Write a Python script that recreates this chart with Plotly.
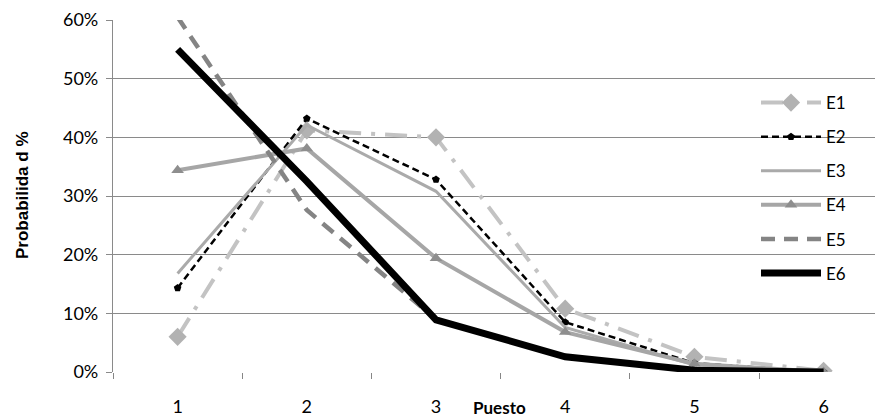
import plotly.graph_objects as go

# Puesto (position) categories and probabilities (%) per series
puesto = [1, 2, 3, 4, 5, 6]
e1 = [6.0, 41.2, 40.0, 10.8, 2.6, 0.2]
e2 = [14.3, 43.2, 32.8, 8.5, 1.5, 0.0]
e3 = [16.8, 42.1, 30.8, 7.6, 1.2, 0.0]
e4 = [34.4, 38.1, 19.4, 6.8, 1.4, 0.0]
e5 = [60.5, 27.6, 9.0, 2.6, 0.4, 0.0]
e6 = [55.0, 32.5, 8.9, 2.6, 0.3, 0.0]
y_ticks = [0, 10, 20, 30, 40, 50, 60]
y_labels = [f"{v}%" for v in y_ticks]

FONT = "Lato"

series = [
    ("E1", e1, dict(color="#c3c3c3", width=4, dash="22px,10px,4px,10px"),
     dict(symbol="diamond", size=14, color="#b2b2b2")),
    ("E2", e2, dict(color="#000000", width=2.5, dash="7px,4px"),
     dict(symbol="pentagon", size=8, color="#000000")),
    ("E3", e3, dict(color="#aaaaaa", width=3), None),
    ("E4", e4, dict(color="#a6a6a6", width=4),
     dict(symbol="triangle-up", size=11, color="#8e8e8e")),
    ("E5", e5, dict(color="#848484", width=4.5, dash="14px,9px"), None),
    ("E6", e6, dict(color="#000000", width=7), None),
]

fig = go.Figure()
for name, vals, line, marker in series:
    kw = dict(mode="lines+markers", marker=marker) if marker else dict(mode="lines")
    fig.add_trace(go.Scatter(
        x=puesto, y=vals, name=name, line=line, legendgroup=name, **kw))

W, H = 875, 419
L, R, T, B = 113, 0, 20, 47
pw = W - L - R
ph = H - T - B
cat_w = 129.2

fig.update_layout(
    width=W, height=H,
    margin=dict(l=L, r=R, t=T, b=B),
    paper_bgcolor="white", plot_bgcolor="white",
    font=dict(family=FONT, size=18, color="#000000"),
    showlegend=True,
    legend=dict(
        x=(756 - L) / pw, y=(372 - 85) / ph, xanchor="left", yanchor="top",
        bgcolor="rgba(0,0,0,0)", font=dict(family=FONT, size=17),
        tracegroupgap=9, itemwidth=60,
    ),
    xaxis=dict(
        range=[0.5, 0.5 + pw / cat_w],
        tickvals=puesto, ticktext=[str(p) for p in puesto],
        ticks="", showgrid=False, zeroline=False,
        showline=False, ticklabelstandoff=22,
        minor=dict(tickvals=[0.5, 1.5, 2.5, 3.5, 4.5, 5.5],
                   ticks="outside", ticklen=6, tickcolor="#868686",
                   showgrid=False),
    ),
    yaxis=dict(
        range=[0, 60], tickvals=y_ticks, ticktext=y_labels,
        showgrid=True, gridcolor="#8a8a8a", gridwidth=1.3,
        zeroline=False, showline=True, linecolor="#8a8a8a", linewidth=1.3,
        ticks="outside", ticklen=6, tickcolor="#8a8a8a",
        ticklabelstandoff=4,
    ),
    annotations=[
        dict(text="<b>Puesto</b>", xref="x", yref="paper",
             x=3.49, y=(372 - 407) / ph, xanchor="center", yanchor="middle",
             showarrow=False, font=dict(family=FONT, size=17)),
        dict(text="<b>Probabilida d %</b>", xref="paper", yref="paper",
             x=(22 - L) / pw, y=(372 - 195) / ph, textangle=-90,
             xanchor="center", yanchor="middle", showarrow=False,
             font=dict(family="Liberation Sans", size=17)),
    ],
)

fig.write_html("out.html")
